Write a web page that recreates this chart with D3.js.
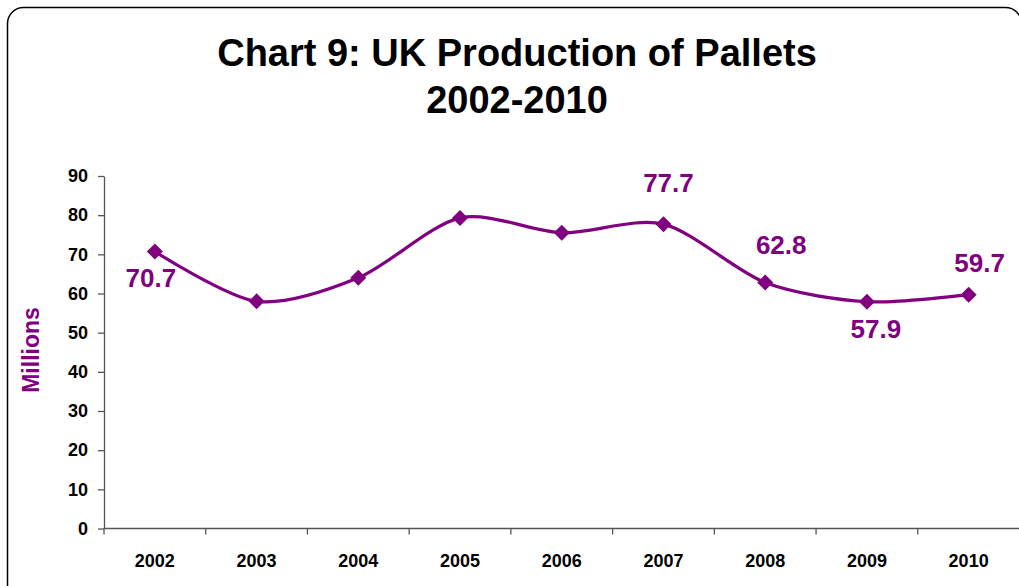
<!DOCTYPE html>
<html lang="en">
<head>
<meta charset="utf-8">
<script src="https://d3js.org/d3.v7.min.js"></script>
<style>
  body { margin: 0; background: #fff; }
  svg { display: block; font-family: Arial, "Liberation Sans", sans-serif; }
</style>
</head>
<body>
<script>
// data
var years = ["2002", "2003", "2004", "2005", "2006", "2007", "2008", "2009", "2010"];
var pallets = [70.7, 58.0, 64.0, 79.3, 75.5, 77.7, 62.8, 57.9, 59.7];
var yTicks = [0, 10, 20, 30, 40, 50, 60, 70, 80, 90];
var titleLines = ["Chart 9: UK Production of Pallets", "2002-2010"];

// which points carry a value label, and where it sits relative to the marker
var labelSpots = [
  { year: "2002", dx: -4, dy: 35 },
  { year: "2007", dx: 5, dy: -32 },
  { year: "2008", dx: 16, dy: -29 },
  { year: "2009", dx: 9, dy: 36 },
  { year: "2010", dx: 11, dy: -23 }
];

var width = 1019, height = 586;
var purple = "#800080";

var svg = d3.select("body").append("svg")
    .attr("width", width)
    .attr("height", height);

// outer rounded frame (runs off the bottom edge)
svg.append("rect")
    .attr("x", 7.5).attr("y", 7.5)
    .attr("width", 1014).attr("height", 640)
    .attr("rx", 16).attr("ry", 16)
    .attr("fill", "none")
    .attr("stroke", "#000")
    .attr("stroke-width", 1.5);

svg.selectAll(".title")
    .data(titleLines)
  .enter().append("text")
    .attr("class", "title")
    .attr("x", 517)
    .attr("y", function(d, i) { return 66 + i * 47; })
    .attr("text-anchor", "middle")
    .attr("font-size", 38)
    .attr("font-weight", "bold")
    .attr("fill", "#000")
    .text(function(d) { return d; });

var x = d3.scaleBand()
    .domain(years)
    .range([104, 1019.5]);

var y = d3.scaleLinear()
    .domain([0, 90])
    .range([528.5, 176]);

// y axis
var yAxis = svg.append("g")
    .attr("transform", "translate(104,0)")
    .call(d3.axisLeft(y).tickValues(yTicks).tickSize(6).tickPadding(10).tickSizeOuter(0));
yAxis.select(".domain").attr("stroke", "#555").attr("stroke-width", 1.3);
yAxis.selectAll(".tick line").attr("stroke", "#555").attr("stroke-width", 1.3);
yAxis.selectAll("text")
    .attr("font-family", "Arial, 'Liberation Sans', sans-serif")
    .attr("font-size", 18)
    .attr("font-weight", "bold")
    .attr("fill", "#000");

// x axis: ticks on the category boundaries
var xAxisG = svg.append("g").attr("transform", "translate(0,528.5)");
xAxisG.append("line")
    .attr("x1", 104).attr("x2", width)
    .attr("stroke", "#555").attr("stroke-width", 1.3);
xAxisG.selectAll(".xtick")
    .data(years)
  .enter().append("line")
    .attr("class", "xtick")
    .attr("x1", function(d) { return x(d); })
    .attr("x2", function(d) { return x(d); })
    .attr("y2", 6)
    .attr("stroke", "#555").attr("stroke-width", 1.3);
xAxisG.selectAll(".xlabel")
    .data(years)
  .enter().append("text")
    .attr("class", "xlabel")
    .attr("x", function(d) { return x(d) + x.bandwidth() / 2; })
    .attr("y", 38)
    .attr("text-anchor", "middle")
    .attr("font-size", 18)
    .attr("font-weight", "bold")
    .attr("fill", "#000")
    .text(function(d) { return d; });

// y axis title
svg.append("text")
    .attr("transform", "translate(39,350) rotate(-90)")
    .attr("text-anchor", "middle")
    .attr("font-size", 23)
    .attr("font-weight", "bold")
    .attr("fill", purple)
    .text("Millions");

var points = years.map(function(yr, i) { return { year: yr, value: pallets[i] }; });
var cx = function(d) { return x(d.year) + x.bandwidth() / 2; };
var cy = function(d) { return y(d.value); };

var line = d3.line()
    .x(cx).y(cy)
    .curve(d3.curveCardinal.tension(0.15));

svg.append("path")
    .datum(points)
    .attr("d", line)
    .attr("fill", "none")
    .attr("stroke", purple)
    .attr("stroke-width", 3.2);

svg.selectAll(".marker")
    .data(points)
  .enter().append("path")
    .attr("class", "marker")
    .attr("transform", function(d) { return "translate(" + cx(d) + "," + cy(d) + ")"; })
    .attr("d", "M0,-8L8,0L0,8L-8,0Z")
    .attr("fill", purple);

svg.selectAll(".vlabel")
    .data(labelSpots)
  .enter().append("text")
    .attr("class", "vlabel")
    .attr("x", function(s) { return cx(points[years.indexOf(s.year)]) + s.dx; })
    .attr("y", function(s) { return cy(points[years.indexOf(s.year)]) + s.dy; })
    .attr("text-anchor", "middle")
    .attr("font-size", 26)
    .attr("font-weight", "bold")
    .attr("fill", purple)
    .text(function(s) { return d3.format(".1f")(pallets[years.indexOf(s.year)]); });
</script>
</body>
</html>
